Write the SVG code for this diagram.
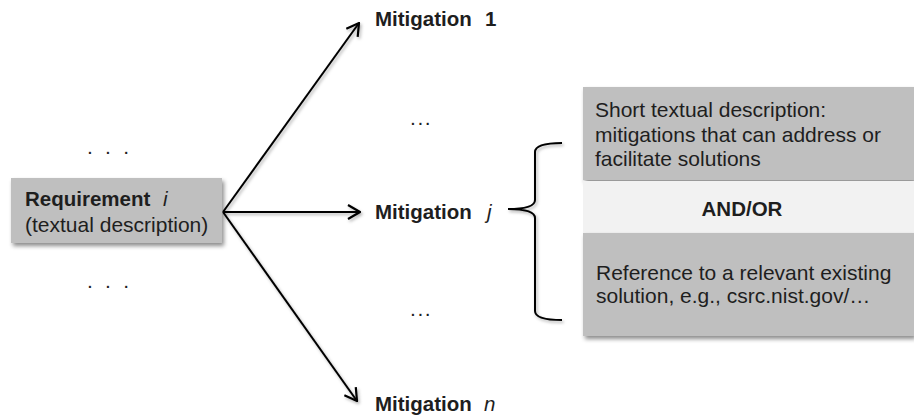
<svg xmlns="http://www.w3.org/2000/svg" width="914" height="415" viewBox="0 0 914 415">
<style>
text{font-family:"Liberation Sans",Arial,sans-serif;fill:#1e1e1e}
.reg{font-size:21px}
.bold{font-size:20.5px;font-weight:bold}
.it{font-style:italic;font-weight:normal}
.box{fill:#bfbfbf}
.band{fill:#f2f2f2}
.conn{stroke:#000;stroke-width:2;fill:none}
</style>
<defs>
<filter id="sh" x="-10%" y="-10%" width="130%" height="140%">
<feDropShadow dx="2" dy="3" stdDeviation="2" flood-color="#000" flood-opacity="0.45"/>
</filter>
<filter id="lsh" x="-20%" y="-20%" width="140%" height="140%">
<feDropShadow dx="1.5" dy="2" stdDeviation="1.5" flood-color="#000" flood-opacity="0.3"/>
</filter>
<marker id="arr" viewBox="0 0 14 16" refX="13" refY="8" markerWidth="14" markerHeight="16" markerUnits="userSpaceOnUse" orient="auto">
<path d="M1,1 L13,8 L1,15" fill="none" stroke="#000" stroke-width="2.2"/>
</marker>
</defs>
<rect width="914" height="415" fill="#fff"/>

<g id="dots-left">
<text class="reg" x="87" y="154" style="letter-spacing:3.2px">. . .</text>
<text class="reg" x="87" y="288" style="letter-spacing:3.2px">. . .</text>
</g>

<g id="requirement">
<rect class="box" x="11" y="178" width="211" height="65" filter="url(#sh)"/>
<text class="bold" x="25" y="206">Requirement <tspan class="it" x="163">i</tspan></text>
<text class="reg" x="25" y="232">(textual description)</text>
</g>

<g id="connectors" filter="url(#lsh)">
<line class="conn" x1="223" y1="212" x2="359" y2="23" marker-end="url(#arr)"/>
<line class="conn" x1="223" y1="212" x2="360" y2="212" marker-end="url(#arr)"/>
<line class="conn" x1="223" y1="212" x2="357" y2="401" marker-end="url(#arr)"/>
<path class="conn" d="M562,143 Q535,143 535,152 L535,200 Q535,209 508,209 Q535,209 535,218 L535,311 Q535,320 562,320"/>
</g>

<g id="mitigation-1">
<text class="bold" x="375" y="26">Mitigation <tspan x="485">1</tspan></text>
</g>
<g id="dots-mid-top">
<text class="reg" x="410" y="125" style="letter-spacing:1.6px">...</text>
</g>
<g id="mitigation-j">
<text class="bold" x="375" y="219">Mitigation <tspan class="it" x="487">j</tspan></text>
</g>
<g id="dots-mid-bottom">
<text class="reg" x="410" y="316" style="letter-spacing:1.6px">...</text>
</g>
<g id="mitigation-n">
<text class="bold" x="375" y="411">Mitigation <tspan class="it" x="484">n</tspan></text>
</g>

<g id="short-description">
<rect class="box" x="583" y="87" width="331" height="93" filter="url(#sh)"/>
<text class="reg" x="595" y="117">Short textual description:</text>
<text class="reg" x="595" y="142">mitigations that can address or</text>
<text class="reg" x="595" y="166">facilitate solutions</text>
</g>
<g id="andor">
<rect class="band" x="583" y="181" width="331" height="52"/>
<text class="bold" x="742" y="216" text-anchor="middle">AND/OR</text>
</g>
<g id="reference">
<rect class="box" x="583" y="233" width="331" height="103" filter="url(#sh)"/>
<text class="reg" x="596" y="280">Reference to a relevant existing</text>
<text class="reg" x="596" y="303">solution, e.g., csrc.nist.gov/…</text>
</g>
</svg>
